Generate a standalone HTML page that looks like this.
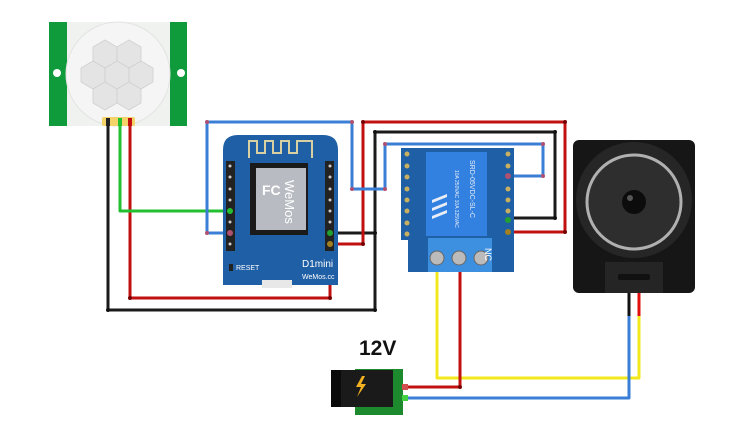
<!DOCTYPE html>
<html><head><meta charset="utf-8"><style>html,body{margin:0;padding:0;background:#fff}svg{display:block}</style></head><body>
<svg width="751" height="430" viewBox="0 0 751 430" xmlns="http://www.w3.org/2000/svg" font-family="Liberation Sans, sans-serif">
<!-- PIR sensor -->
<rect x="49" y="22" width="138" height="104" fill="#f0f2ef"/>
<rect x="49" y="22" width="18" height="104" fill="#0f9a3c"/>
<rect x="170" y="22" width="17" height="104" fill="#0f9a3c"/>
<circle cx="57" cy="73" r="4" fill="#fff"/><circle cx="181" cy="73" r="4" fill="#fff"/>
<circle cx="118" cy="74" r="52" fill="#f4f5f4" stroke="#e2e4e2"/>
<g fill="#e4e4e4" stroke="#d0d0d0" stroke-width="0.8">
<polygon points="105,40 117,47 117,61 105,68 93,61 93,47"/>
<polygon points="129,40 141,47 141,61 129,68 117,61 117,47"/>
<polygon points="93,61 105,68 105,82 93,89 81,82 81,68"/>
<polygon points="117,61 129,68 129,82 117,89 105,82 105,68"/>
<polygon points="141,61 153,68 153,82 141,89 129,82 129,68"/>
<polygon points="105,82 117,89 117,103 105,110 93,103 93,89"/>
<polygon points="129,82 141,89 141,103 129,110 117,103 117,89"/>
</g>
<rect x="102" y="117" width="33" height="9" rx="2" fill="#f3d36a"/>
<!-- Wires -->
<g fill="none" stroke-width="3" stroke-linejoin="round">
<polyline points="108,122 108,310 375,310 375,132 555,132 555,218 508,218" stroke="#1a1a1a"/>
<polyline points="330,233 375,233" stroke="#1a1a1a"/>
<polyline points="130,122 130,298 330,298 330,244" stroke="#c01010"/>
<polyline points="330,244 363,244 363,122 565,122 565,232 508,232" stroke="#c01010"/>
<polyline points="120,122 120,211 232,211" stroke="#22c030"/>
<polyline points="232,233 207,233 207,122 352,122 352,189 385,189 385,144 543,144 543,176 508,176" stroke="#3a7ed6"/>
<polyline points="437,270 437,378 639,378 639,314" stroke="#f2e81c"/>
<polyline points="460,270 460,387 405,387" stroke="#c01010"/>
<polyline points="405,398 629,398 629,314" stroke="#3a7ed6"/>
<line x1="629" y1="292" x2="629" y2="316" stroke="#111"/>
<line x1="639" y1="292" x2="639" y2="316" stroke="#e01010"/>
</g>
<g fill="#b05070"><circle cx="207" cy="122" r="2"/><circle cx="352" cy="122" r="2"/><circle cx="352" cy="189" r="2"/><circle cx="385" cy="189" r="2"/><circle cx="385" cy="144" r="2"/><circle cx="543" cy="144" r="2"/><circle cx="207" cy="233" r="2"/><circle cx="543" cy="176" r="2"/></g>
<g fill="#700"><circle cx="363" cy="122" r="2"/><circle cx="565" cy="122" r="2"/><circle cx="130" cy="298" r="2"/><circle cx="330" cy="298" r="2"/><circle cx="363" cy="244" r="2"/><circle cx="565" cy="232" r="2"/><circle cx="460" cy="387" r="2"/></g>
<g fill="#111"><circle cx="375" cy="132" r="2"/><circle cx="555" cy="132" r="2"/><circle cx="375" cy="310" r="2"/><circle cx="108" cy="310" r="2"/><circle cx="555" cy="218" r="2"/><circle cx="375" cy="233" r="2"/></g>
<!-- PIR pins -->
<rect x="106" y="118" width="4" height="8" fill="#222"/><rect x="118" y="118" width="4" height="8" fill="#22c030"/><rect x="128" y="118" width="4" height="8" fill="#c01010"/>
<!-- ESP board -->
<path d="M223,285 V150 Q223,135 238,135 H323 Q338,135 338,150 V285 Z" fill="#1f5fa5"/>
<rect x="262" y="280" width="30" height="8" fill="#e8e8e8"/>
<path d="M249,158 V141 H257 V153 H265 V141 H273 V153 H281 V141 H289 V153 H297 V141 H312 V158" fill="none" stroke="#d8d0a0" stroke-width="2"/>
<rect x="250" y="163" width="58" height="72" fill="#1a1a1a"/>
<rect x="256" y="168" width="50" height="62" fill="#b8bcc2"/>
<text x="262" y="195" font-size="14" font-weight="bold" fill="#fff">FC</text>
<text x="285" y="180" font-size="13" fill="#fff" transform="rotate(90 285 180)">WeMos</text>
<g fill="#222">
<rect x="226" y="161" width="9" height="90"/><rect x="325" y="161" width="9" height="90"/>
</g>
<g fill="#ccc">
<circle cx="230" cy="166" r="1.5"/><circle cx="230" cy="177" r="1.5"/><circle cx="230" cy="189" r="1.5"/><circle cx="230" cy="200" r="1.5"/><circle cx="230" cy="222" r="1.5"/><circle cx="230" cy="244" r="1.5"/>
<circle cx="330" cy="166" r="1.5"/><circle cx="330" cy="177" r="1.5"/><circle cx="330" cy="189" r="1.5"/><circle cx="330" cy="200" r="1.5"/><circle cx="330" cy="211" r="1.5"/><circle cx="330" cy="222" r="1.5"/>
</g>
<circle cx="230" cy="211" r="3" fill="#22c030"/><circle cx="230" cy="233" r="3" fill="#b05070"/>
<circle cx="330" cy="233" r="3" fill="#22a030"/><circle cx="330" cy="244" r="3" fill="#a08020"/>
<rect x="229" y="264" width="4" height="7" fill="#222"/>
<text x="236" y="270" font-size="7" fill="#fff">RESET</text>
<text x="302" y="267" font-size="10" fill="#fff">D1mini</text>
<text x="302" y="279" font-size="7" fill="#fff">WeMos.cc</text>
<!-- Relay board -->
<path d="M401,148 H514 V272 H408 V240 H401 Z" fill="#1f5fa5"/>
<rect x="426" y="152" width="61" height="84" fill="#3280e0"/>
<text x="470" y="160" font-size="7" fill="#e8eef8" transform="rotate(90 470 160)">SRD-05VDC-SL-C</text>
<text x="455" y="170" font-size="5" fill="#e8eef8" transform="rotate(90 455 170)">10A 250VAC 10A 125VAC</text>
<path d="M432,200 l15,-6 v3 l-15,6 z M432,208 l15,-6 v3 l-15,6 z M432,216 l15,-6 v3 l-15,6 z" fill="#e8eef8"/>
<rect x="428" y="238" width="64" height="34" fill="#3d8fe0"/>
<g fill="#bbb" stroke="#666"><circle cx="437" cy="258" r="7"/><circle cx="459" cy="258" r="7"/><circle cx="481" cy="258" r="7"/></g>
<text x="410" y="260" font-size="9" fill="#fff" transform="rotate(90 410 248)">NO</text>
<text x="497" y="260" font-size="9" fill="#fff" transform="rotate(90 497 248)">NC</text>
<g fill="#c8b060"><circle cx="407" cy="154" r="2.5"/><circle cx="407" cy="166" r="2.5"/><circle cx="407" cy="177" r="2.5"/><circle cx="407" cy="189" r="2.5"/><circle cx="407" cy="200" r="2.5"/><circle cx="407" cy="211" r="2.5"/><circle cx="407" cy="223" r="2.5"/><circle cx="407" cy="234" r="2.5"/>
<circle cx="508" cy="154" r="2.5"/><circle cx="508" cy="166" r="2.5"/><circle cx="508" cy="189" r="2.5"/><circle cx="508" cy="200" r="2.5"/><circle cx="508" cy="211" r="2.5"/></g>
<circle cx="508" cy="176" r="3" fill="#b05070"/><circle cx="508" cy="220" r="3" fill="#22a030"/><circle cx="508" cy="232" r="3" fill="#a08020"/>
<!-- Speaker -->
<rect x="573" y="140" width="122" height="153" rx="6" fill="#161616"/>
<rect x="605" y="262" width="58" height="31" fill="#252525"/>
<rect x="618" y="274" width="32" height="6" rx="2" fill="#111"/>
<circle cx="634" cy="200" r="58" fill="#262626"/>
<circle cx="634" cy="202" r="47" fill="#2e2e2e" stroke="#b0b0b0" stroke-width="3"/>
<circle cx="634" cy="202" r="12" fill="#0c0c0c"/>
<circle cx="630" cy="198" r="3" fill="#555"/>
<!-- Jack -->
<rect x="355" y="369" width="48" height="46" fill="#1e8a2e"/>
<rect x="331" y="370" width="62" height="37" fill="#1a1a1a"/>
<rect x="331" y="370" width="10" height="37" fill="#0a0a0a"/>
<path d="M362,376 l-6,11 h5 l-4,10 l9,-13 h-5 l4,-8 z" fill="#f0b020"/>
<rect x="402" y="384" width="6" height="6" fill="#d05050"/><rect x="402" y="395" width="6" height="6" fill="#40d040"/>
<text x="359" y="355" font-size="21" font-weight="bold" fill="#111">12V</text>
</svg>
</body></html>
